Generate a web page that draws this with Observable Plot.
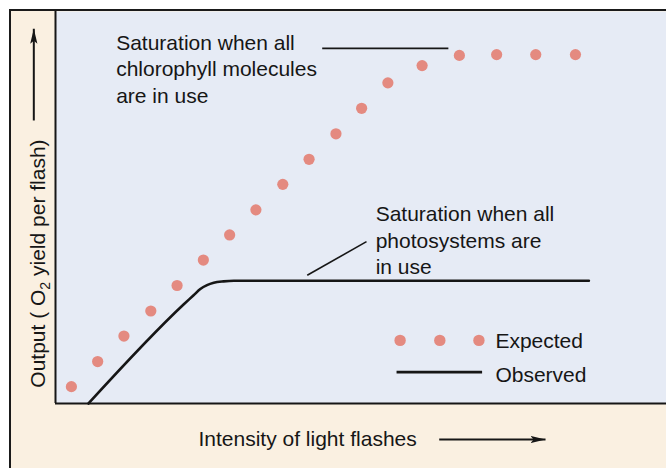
<!DOCTYPE html>
<html><head><meta charset="utf-8">
<script src="https://cdn.jsdelivr.net/npm/d3@7"></script>
<script src="https://cdn.jsdelivr.net/npm/@observablehq/plot@0.6"></script>
<style>
html,body{margin:0;padding:0;background:#fff;}
#page{position:relative;width:666px;height:468px;overflow:hidden;background:#fff;}
#panel{position:absolute;left:9px;top:9px;width:657px;height:459px;box-sizing:border-box;border-left:2px solid #1a1a1a;border-top:2px solid #1a1a1a;background:#faf0e1;}
#chart{position:absolute;left:11px;top:11px;}
</style></head><body>
<div id="page"><div id="panel"></div><div id="chart"></div></div>
<script>
// Expected output (dots), arbitrary units 0–100
const expectedX = [2.6, 6.9, 11.2, 15.6, 19.9, 24.2, 28.5, 32.8, 37.2, 41.5, 45.9, 50.1, 54.4, 60.0, 66.1, 72.2, 78.6, 85.1];
const expectedY = [4.3, 10.7, 17.2, 23.6, 30.1, 36.6, 43.0, 49.4, 55.9, 62.3, 68.8, 75.3, 81.8, 86.2, 88.8, 89.0, 89.0, 89.0];
// Observed output (line)
const observedX = [5.4, 21.0, 22.6, 23.7, 24.8, 25.9, 27.5, 29.2, 87.3];
const observedY = [0, 25.3, 27.6, 29.2, 30.2, 30.8, 31.15, 31.3, 31.3];
// Texts
const legendLabels = ["Expected", "Observed"];
const annotations = [
  "Saturation when all\nchlorophyll molecules\nare in use",
  "Saturation when all\nphotosystems are\nin use"
];
const xLabel = "Intensity of light flashes";
const yLabel = "Output ( O₂ yield per flash)";

const expected = expectedX.map((x, i) => ({x, y: expectedY[i]}));
const observed = observedX.map((x, i) => ({x, y: observedY[i]}));

const ink = "#161616";
const dotColor = "#e48a80";
const fs = 21;

const chart = Plot.plot({
  width: 655, height: 457,
  marginLeft: 44, marginRight: 0, marginTop: 0, marginBottom: 65,
  x: {domain: [0, 100], axis: null},
  y: {domain: [0, 100], axis: null},
  style: {background: "transparent", fontFamily: "'Liberation Sans', Arial, Helvetica, sans-serif", color: ink, overflow: "visible"},
  marks: [
    Plot.frame({fill: "#e6ebf5", stroke: "none"}),
    Plot.ruleX([0], {stroke: ink, strokeWidth: 2}),
    Plot.ruleY([0], {stroke: ink, strokeWidth: 2}),
    Plot.line(observed, {x: "x", y: "y", curve: "monotone-x", stroke: ink, strokeWidth: 2.6}),
    Plot.dot(expected, {x: "x", y: "y", r: 5.6, fill: dotColor, stroke: "none"}),
    // annotations
    Plot.text([annotations[0]], {x: 9.93, y: 95.0, text: d => d, textAnchor: "start", lineAnchor: "top", lineHeight: 1.255, fontSize: fs, fill: ink}),
    Plot.text([annotations[1]], {x: 52.4, y: 51.4, text: d => d, textAnchor: "start", lineAnchor: "top", lineHeight: 1.27, fontSize: fs, fill: ink}),
    Plot.link([0], {x1: 43.65, x2: 64.3, y1: 90.6, y2: 90.6, stroke: ink, strokeWidth: 1.6}),
    Plot.link([0], {x1: 41.2, y1: 32.7, x2: 50.9, y2: 41.3, stroke: ink, strokeWidth: 1.6}),
    // legend
    Plot.dot([56.4, 62.9, 69.3], {x: d => d, y: 16.1, r: 5.7, fill: dotColor, stroke: "none"}),
    Plot.ruleY([8.0], {x1: 55.9, x2: 69.9, stroke: ink, strokeWidth: 2.6}),
    Plot.text(legendLabels, {x: 72.0, y: (d, i) => [15.9, 7.3][i], text: d => d, textAnchor: "start", fontSize: fs, fill: ink}),
    // axis labels
    Plot.text([xLabel], {x: 23.4, y: -9.2, text: d => d, textAnchor: "start", fontSize: fs, fill: ink}),
    Plot.link([0], {x1: 62.8, y1: -9.2, x2: 80.2, y2: -9.2, stroke: ink, strokeWidth: 2, markerEnd: "arrow"}),
    Plot.text([yLabel], {x: -2.9, y: 35.7, text: d => d, rotate: -90, textAnchor: "middle", fontSize: fs, fill: ink}),
    Plot.link([0], {x1: -3.55, y1: 72.2, x2: -3.55, y2: 95.6, stroke: ink, strokeWidth: 2, markerEnd: "arrow"})
  ]
});

// filled narrow arrowheads
chart.querySelectorAll("marker").forEach(m => {
  m.setAttribute("viewBox", "-15 -4 15 8");
  m.setAttribute("markerUnits", "userSpaceOnUse");
  m.setAttribute("markerWidth", "15");
  m.setAttribute("markerHeight", "8");
  m.setAttribute("refX", "0");
  m.setAttribute("refY", "0");
  m.setAttribute("orient", "auto");
  m.innerHTML = '<path d="M-15,-3.6L0,0L-15,3.6L-12,0Z" fill="' + ink + '" stroke="none"/>';
});

// subscript in O2
const ns = "http://www.w3.org/2000/svg";
chart.querySelectorAll("text, tspan").forEach(el => {
  if (el.children.length === 0 && el.textContent.includes("₂")) {
    const s = el.textContent, i = s.indexOf("₂");
    el.textContent = "";
    const a = document.createElementNS(ns, "tspan"); a.textContent = s.slice(0, i);
    const b = document.createElementNS(ns, "tspan"); b.textContent = "2";
    b.setAttribute("font-size", "14"); b.setAttribute("dy", "5");
    const c = document.createElementNS(ns, "tspan"); c.textContent = s.slice(i + 1);
    c.setAttribute("dy", "-5");
    el.append(a, b, c);
  }
});

document.getElementById("chart").appendChild(chart);
</script>
</body></html>
